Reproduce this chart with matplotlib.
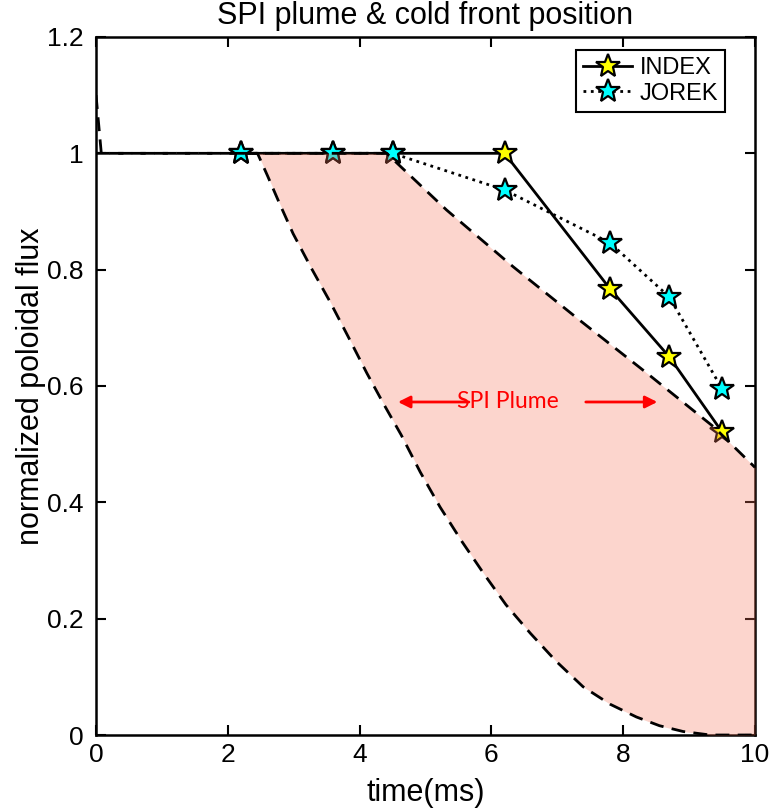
import matplotlib
matplotlib.use("Agg")
import matplotlib.pyplot as plt
import numpy as np

plt.rcParams['font.family'] = ['Liberation Sans', 'DejaVu Sans']

# cold front position (normalized poloidal flux) vs time
t_pts = [2.2, 3.6, 4.5, 6.2, 7.8, 8.7, 9.5]
index_flux = [1.0, 1.0, 1.0, 1.0, 0.767, 0.65, 0.521]
jorek_flux = [1.0, 1.0, 1.0, 0.937, 0.846, 0.753, 0.595]

# SPI plume boundaries
lower_t = [0.0, 2.45, 2.60, 2.78, 2.99, 3.27, 3.55, 3.83, 4.11, 4.37, 4.63, 4.92,
           5.22, 5.55, 5.88, 6.22, 6.59, 6.98, 7.39, 7.80, 8.20, 8.55, 8.91, 9.32, 10.0]
lower_flux = [1.0, 1.0, 0.962, 0.915, 0.862, 0.802, 0.745, 0.684, 0.622, 0.568, 0.516, 0.452,
              0.392, 0.333, 0.278, 0.224, 0.175, 0.127, 0.083, 0.053, 0.031, 0.016, 0.006, 0.0, 0.0]
upper_t = [0.0, 0.08, 4.41, 5.32, 6.33, 7.34, 8.36, 9.37, 10.0]
upper_flux = [1.1, 1.0, 1.0, 0.9025, 0.805, 0.713, 0.622, 0.53, 0.46]

fig = plt.figure(figsize=(7.82, 8.11), dpi=100)
ax = fig.add_axes([0.1228, 0.0937, 0.8427, 0.8607])

ax.plot(t_pts, index_flux, '-', color='k', lw=2, marker='*', ms=18,
        mfc='yellow', mec='k', mew=1.6, label='INDEX', zorder=2)
ax.plot(t_pts, jorek_flux, ':', color='k', lw=2, marker='*', ms=18,
        mfc='cyan', mec='k', mew=1.6, label='JOREK', zorder=3)

# plume region (filled between boundaries, on a common grid)
tt = np.linspace(2.45, 10.0, 400)
lo = np.interp(tt, lower_t, lower_flux)
hi = np.interp(tt, upper_t, upper_flux)
ax.fill_between(tt, lo, hi, color=(247/255, 118/255, 90/255), alpha=0.3,
                lw=0, zorder=4)

ax.plot(lower_t, lower_flux, color='k', lw=2, dashes=(5, 3), zorder=5)
ax.plot(upper_t, upper_flux, color='k', lw=2, dashes=(5, 3), zorder=5)

# SPI plume annotation
ax.annotate('', xy=(4.54, 0.5725), xytext=(5.7, 0.5725),
            arrowprops=dict(arrowstyle='-|>', color='red', lw=2, mutation_scale=18), zorder=6)
ax.annotate('', xy=(8.56, 0.5725), xytext=(7.39, 0.5725),
            arrowprops=dict(arrowstyle='-|>', color='red', lw=2, mutation_scale=18), zorder=6)
ax.text(6.25, 0.5725, 'SPI Plume', color='red', fontsize=16.5, ha='center', va='center',
        family=['Lato', 'DejaVu Sans'], zorder=7)

ax.set_xlim(0, 10)
ax.set_ylim(0, 1.2)
ax.set_xticks([0, 2, 4, 6, 8, 10])
ax.set_yticks([0, 0.2, 0.4, 0.6, 0.8, 1.0, 1.2])
ax.set_yticklabels(['0', '0.2', '0.4', '0.6', '0.8', '1', '1.2'])
ax.tick_params(direction='in', top=True, right=True, length=7, width=1.5,
               labelsize=19)
ax.tick_params(axis='y', pad=9)
ax.tick_params(axis='x', pad=6)
for s in ax.spines.values():
    s.set_linewidth(1.8)

ax.set_xlabel('time(ms)', fontsize=22, labelpad=8)
ax.set_ylabel('normalized poloidal flux', fontsize=22, labelpad=1)
ax.set_title('SPI plume & cold front position', fontsize=22, pad=9)

leg = ax.legend(loc='upper right', bbox_to_anchor=(0.9545, 0.9814), borderaxespad=0,
                fontsize=17, frameon=True, fancybox=False, framealpha=1,
                handlelength=2.1, borderpad=0.3, labelspacing=0.15, handletextpad=0.3)
leg.get_frame().set_edgecolor('k')
leg.get_frame().set_linewidth(1.5)

fig.savefig('out.png', dpi=100)
